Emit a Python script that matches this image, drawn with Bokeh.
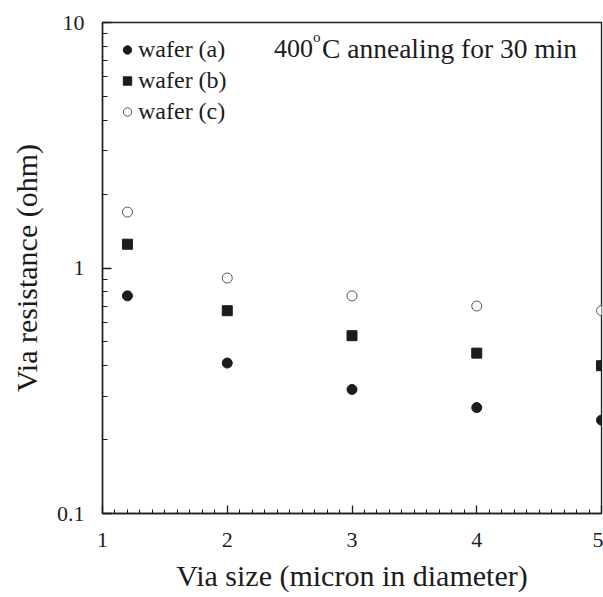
from bokeh.plotting import figure
from bokeh.models import Range1d, FixedTicker, Legend, LegendItem, Label
from bokeh.embed import file_html
from bokeh.resources import INLINE

# ---- data ----
via_size = [1.2, 2, 3, 4, 5]
wafer_a = [0.77, 0.41, 0.32, 0.27, 0.24]
wafer_b = [1.25, 0.67, 0.53, 0.45, 0.40]
wafer_c = [1.69, 0.91, 0.77, 0.70, 0.67]
series_names = ["wafer (a)", "wafer (b)", "wafer (c)"]

x_ticks = [1, 2, 3, 4, 5]
x_tick_labels = ["1", "2", "3", "4", "5"]
y_ticks = [0.1, 1, 10]
y_tick_labels = ["0.1", "1", "10"]
x_minor = [round(1 + 0.1 * i, 1) for i in range(41) if i % 10]
y_minor = [m * 10.0 ** e for e in (-1, 0) for m in range(2, 10)]

FONT = "Liberation Serif"
INK = "#1c1c1c"

X0, X1 = 1, 5
Y0, Y1 = 0.1, 10

p = figure(width=603, height=597, y_axis_type="log",
           x_range=Range1d(X0, X1), y_range=Range1d(Y0, Y1),
           min_border_left=102, min_border_right=2, min_border_top=22, min_border_bottom=84,
           output_backend="svg", toolbar_location=None,
           x_axis_label="Via size (micron in diameter)",
           y_axis_label="Via resistance (ohm)")
p.xgrid.visible = False
p.ygrid.visible = False
p.outline_line_color = INK
p.outline_line_width = 1.3
p.background_fill_color = "white"
p.border_fill_color = "white"

ra = p.scatter(via_size, wafer_a, marker="circle", size=10, fill_color=INK, line_color=INK)
rb = p.scatter(via_size, wafer_b, marker="square", size=10, fill_color=INK, line_color=INK)
rc = p.scatter(via_size, wafer_c, marker="circle", size=10, fill_color="white",
               line_color="#555555", line_width=1)

# axes
p.xaxis.ticker = FixedTicker(ticks=x_ticks, minor_ticks=x_minor)
p.yaxis.ticker = FixedTicker(ticks=y_ticks, minor_ticks=y_minor)
p.xaxis.major_label_overrides = {t: s for t, s in zip(x_ticks, x_tick_labels)}
p.yaxis.major_label_overrides = {t: s for t, s in zip(y_ticks, y_tick_labels)}

for ax in (p.xaxis, p.yaxis):
    ax.axis_line_color = INK
    ax.axis_line_width = 1.5
    ax.major_tick_line_color = INK
    ax.minor_tick_line_color = INK
    ax.major_tick_line_width = 1.3
    ax.minor_tick_line_width = 1.1
    ax.major_tick_out = 0
    ax.minor_tick_out = 0
    ax.major_label_text_font = FONT
    ax.major_label_text_font_size = "22px"
    ax.major_label_text_color = INK
    ax.axis_label_text_font = FONT
    ax.axis_label_text_font_size = "30px"
    ax.axis_label_text_font_style = "normal"
    ax.axis_label_text_color = INK

p.xaxis.major_tick_in = 8
p.xaxis.minor_tick_in = 4
p.yaxis.major_tick_in = 9
p.yaxis.minor_tick_in = 5

p.xaxis.major_label_standoff = 19
p.xaxis.axis_label_standoff = 9
p.yaxis.major_label_standoff = 18
p.yaxis.axis_label_standoff = 11

legend = Legend(items=[LegendItem(label=series_names[0], renderers=[ra]),
                       LegendItem(label=series_names[1], renderers=[rb]),
                       LegendItem(label=series_names[2], renderers=[rc])],
                location="top_left", margin=14, padding=0, spacing=4,
                glyph_width=22, glyph_height=21, label_height=21, label_standoff=0,
                label_text_font=FONT, label_text_font_size="24px", label_text_color=INK,
                border_line_color=None, background_fill_alpha=0)
p.add_layout(legend)

ann_x, ann_y = 2.375, 7.84
p.add_layout(Label(x=ann_x, y=ann_y, text="400", text_font=FONT, text_font_size="26px",
                   text_color=INK, text_baseline="middle"))
p.add_layout(Label(x=ann_x, y=ann_y, x_offset=39, y_offset=11, text="o", text_font=FONT,
                   text_font_size="15px", text_color=INK, text_baseline="middle"))
p.add_layout(Label(x=ann_x, y=ann_y, x_offset=48, text="C annealing for 30 min", text_font=FONT,
                   text_font_size="27.5px", text_color=INK, text_baseline="middle"))

open("out.html", "w").write(file_html(p, INLINE))
